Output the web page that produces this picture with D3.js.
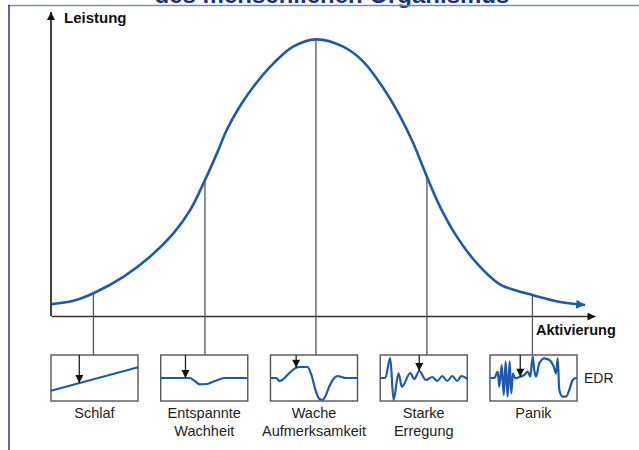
<!DOCTYPE html>
<html>
<head>
<meta charset="utf-8">
<script src="https://cdn.jsdelivr.net/npm/d3@7"></script>
<style>
  body { margin: 0; background: #fff; }
  text { font-family: "Liberation Sans", Arial, sans-serif; }
</style>
</head>
<body>
<div id="chart"></div>
<script>
var width = 639,
height = 450;

// Leistungskurve (Aktivierung 0-100, Leistung 0-100)
var activation = [0.1, 4.1, 7.8, 13.3, 18.2, 22.5, 25.6, 28.3, 30.5, 32.3, 34.7, 37.2, 40.9, 44.5, 48.7,
  53.7, 57.4, 61.1, 64.2, 66.6, 69.1, 71.5, 74.6, 78.3, 82.5, 85.5, 88.5, 93.6, 98.2];
var performance = [3.9, 5.0, 7.5, 12.9, 19.5, 27.2, 34.9, 44.7, 53.5, 61.2, 68.9, 75.4, 83.1, 88.6, 91.0,
  88.6, 83.7, 74.9, 65.6, 56.8, 45.8, 36.0, 26.1, 17.3, 10.4, 8.4, 6.9, 4.6, 3.6];

// Zustaende
var stageLines = [["Schlaf"], ["Entspannte", "Wachheit"], ["Wache", "Aufmerksamkeit"],
  ["Starke", "Erregung"], ["Panik"]];
var stageActivation = [7.8, 28.3, 48.7, 69.1, 88.5];
var stagePerformance = [7.5, 44.7, 91.0, 45.8, 6.9];

// EDR-Kurven je Zustand: t (0-100 quer durch die Box), v (-50..50)
var edrT = [
  [0, 100],
  [0, 33.3, 39.1, 44.8, 52.9, 62.1, 73.6, 100],
  [0, 6.6, 10.3, 14.9, 21.8, 29.5, 33.3, 42.5, 47.1, 51.7, 56.3, 59.8, 63.2, 67.8, 72.4, 77.0, 81.6, 86.2, 100],
  [0, 5.7, 11.5, 15.3, 21.0, 24.9, 34.5, 39.1, 44.8, 52.5, 59.8, 65.5, 71.3, 77.0, 82.8, 88.5, 93.1, 100],
  [0, 4.9, 8.9, 10.7, 13.5, 15.8, 18.0, 20.3, 22.6, 24.5, 26.4, 28.7, 34.8, 39.4, 43.3, 46.3, 49.1, 50.9,
    52.9, 56.7, 62.4, 68.2, 73.2, 75.9, 77.8, 79.7, 83.5, 87.4, 91.1, 95.1, 98.9, 100]
];
var edrV = [
  [-27.6, 23.3],
  [0, 0, -6.5, -13.7, -13, -6.5, 0, 0],
  [0, 0, -6.5, -2.2, 10.9, 22.4, 23.9, 23.9, 6.5, -26.1, -45.7, -47.8, -39.1, -17.4, -2.2, 4.3, 2.2, 0, 0],
  [0, 0, 43.5, -47.8, 10.2, -18.9, 10.9, -2.2, 15.2, -4.3, 2.2, -6.5, 4.3, -6.5, 4.3, -6.5, 4.3, -2.2],
  [0, 0, 13.7, -18.9, 28.3, -37, 35.4, -40.7, 35.4, -33.3, 10.2, -0.7, 2.8, 6.5, 13.7, 2.8, 46.3, 17.4,
    2.8, 32, 42.8, 39.1, 24.6, 10.2, 42.8, -26.1, -40.7, -40.7, -26.1, -4.3, 0, 0]
];
// Pfeil in der Box (Position t)
var edrArrowT = [32.5, 28.4, 29.5, 44.8, 34.8];

var blue = '#1f5aa8';

var svg = d3.select('#chart').
append('svg').
attr('width', width).
attr('height', height);

var defs = svg.append('defs');
function marker(id, color, w, h) {
  defs.append('marker').
  attr('id', id).
  attr('viewBox', '0 0 10 10').
  attr('refX', 10).
  attr('refY', 5).
  attr('markerUnits', 'userSpaceOnUse').
  attr('markerWidth', w).
  attr('markerHeight', h).
  attr('orient', 'auto').
  append('path').
  attr('d', 'M0,0L10,5L0,10Z').
  attr('fill', color);
}
marker('arrBlack', '#111', 10, 8);
marker('arrBlue', blue, 12, 9);
marker('arrSmall', '#111', 9, 8);

// Rahmen und abgeschnittener Titel
svg.append('text').
attr('x', 332).
attr('y', 3).
attr('text-anchor', 'middle').
attr('font-size', 24).
attr('font-weight', 'bold').
attr('fill', '#1f3466').
text('des menschlichen Organismus');
svg.append('line').attr('x1', 8).attr('x2', 639).attr('y1', 5.5).attr('y2', 5.5).
attr('stroke', '#7d8aa6').attr('stroke-width', 1.5);
svg.append('line').attr('x1', 9).attr('x2', 9).attr('y1', 5).attr('y2', 450).
attr('stroke', '#26367a').attr('stroke-width', 1.5);

var xScale = d3.scaleLinear().domain([0, 100]).range([51, 595]);
var yScale = d3.scaleLinear().domain([0, 100]).range([316, 12]);

// Achsen
var xAxis = d3.axisBottom(xScale).tickValues([]).tickSizeOuter(0);
var yAxis = d3.axisLeft(yScale).tickValues([]).tickSizeOuter(0);

var gx = svg.append('g').
attr('transform', 'translate(0,' + yScale(0) + ')').
call(xAxis);
gx.select('.domain').attr('stroke', '#333').attr('stroke-width', 1.6).
attr('marker-end', 'url(#arrBlack)');

var gy = svg.append('g').
attr('transform', 'translate(' + xScale(0) + ',0)').
call(yAxis);
// Pfeil nach oben: Pfad umdrehen
gy.select('.domain').
attr('d', 'M0,' + yScale(0) + 'V' + yScale(100)).
attr('stroke', '#111').attr('stroke-width', 1.6).
attr('marker-end', 'url(#arrBlack)');

svg.append('text').
attr('x', 64).
attr('y', 22.5).
attr('font-size', 15).
attr('font-weight', 'bold').
attr('fill', '#111').
text('Leistung');

svg.append('text').
attr('x', 536).
attr('y', 335).
attr('font-size', 14.5).
attr('font-weight', 'bold').
attr('fill', '#111').
text('Aktivierung');

// Boxen
var band = d3.scaleBand().
domain(d3.range(stageLines.length)).
range([51, 577]).
paddingInner(0.207).
paddingOuter(0);
var boxTop = 355,
boxBottom = 401;
var vScale = d3.scaleLinear().domain([-50, 50]).range([boxBottom, boxTop]);

// Lotlinien von der Kurve zu den Boxen
svg.selectAll('line.drop').
data(stageActivation).
enter().
append('line').
attr('class', 'drop').
attr('x1', d => xScale(d)).
attr('x2', d => xScale(d)).
attr('y1', (d, i) => yScale(stagePerformance[i])).
attr('y2', boxTop).
attr('stroke', '#555').
attr('stroke-width', 1.3);

// Leistungskurve
var curveData = activation.map((a, i) => [a, performance[i]]);
svg.append('path').
datum(curveData).
attr('d', d3.line().
x(d => xScale(d[0])).
y(d => yScale(d[1])).
curve(d3.curveCatmullRom.alpha(0.5))).
attr('fill', 'none').
attr('stroke', blue).
attr('stroke-width', 2.6).
attr('marker-end', 'url(#arrBlue)');

stageLines.forEach((lines, i) => {
  var x0 = band(i);
  var tScale = d3.scaleLinear().domain([0, 100]).range([x0, x0 + band.bandwidth()]);
  var g = svg.append('g');

  g.append('rect').
  attr('x', x0).
  attr('y', boxTop).
  attr('width', band.bandwidth()).
  attr('height', boxBottom - boxTop).
  attr('fill', 'none').
  attr('stroke', '#555').
  attr('stroke-width', 1.4);

  var pts = edrT[i].map((t, j) => [t, edrV[i][j]]);
  g.append('path').
  datum(pts).
  attr('d', d3.line().
  x(d => tScale(d[0])).
  y(d => vScale(d[1])).
  curve(i == 0 ? d3.curveLinear : d3.curveMonotoneX)).
  attr('fill', 'none').
  attr('stroke', blue).
  attr('stroke-width', 2.2);

  // Pfeil auf die Kurve
  var tA = edrArrowT[i];
  var vA = d3.scaleLinear().domain(edrT[i]).range(edrV[i])(tA);
  g.append('line').
  attr('x1', tScale(tA)).
  attr('x2', tScale(tA)).
  attr('y1', boxTop).
  attr('y2', vScale(vA)).
  attr('stroke', '#222').
  attr('stroke-width', 1.3).
  attr('marker-end', 'url(#arrSmall)');

  lines.forEach((l, k) => {
    g.append('text').
    attr('x', x0 + band.bandwidth() / 2).
    attr('y', 418 + k * 17.5).
    attr('text-anchor', 'middle').
    attr('font-size', 14.5).
    attr('fill', '#222').
    text(l);
  });
});

svg.append('text').
attr('x', 584).
attr('y', 383).
attr('font-size', 14).
attr('fill', '#222').
text('EDR');
</script>
</body>
</html>
